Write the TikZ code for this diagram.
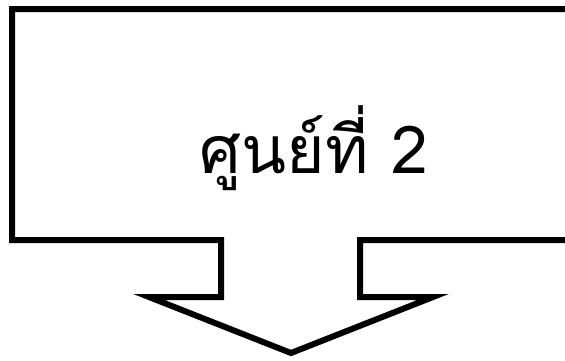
\documentclass[tikz,border=0pt]{standalone}
\usepackage{fontspec}
\newfontfamily\thaifont[Script=Thai]{Loma}
\begin{document}
\begin{tikzpicture}[x=1pt,y=-1pt,
  callout/.style={draw=black,line width=6pt,line join=miter,fill=white}]
\useasboundingbox (0,0) rectangle (565,360);
\clip (0,0) rectangle (565,360);
\draw[callout] (12,9) -- (580,9) -- (580,240) -- (360,240) -- (360,297) -- (433,297)
  -- (291,353) -- (149,297) -- (221,297) -- (221,240) -- (12,240) -- cycle;
\node[font=\thaifont\fontsize{66}{74}\selectfont, inner sep=0pt, anchor=base] (t) at (314,173) {ศูนย์ที่ 2};
\end{tikzpicture}
\end{document}
